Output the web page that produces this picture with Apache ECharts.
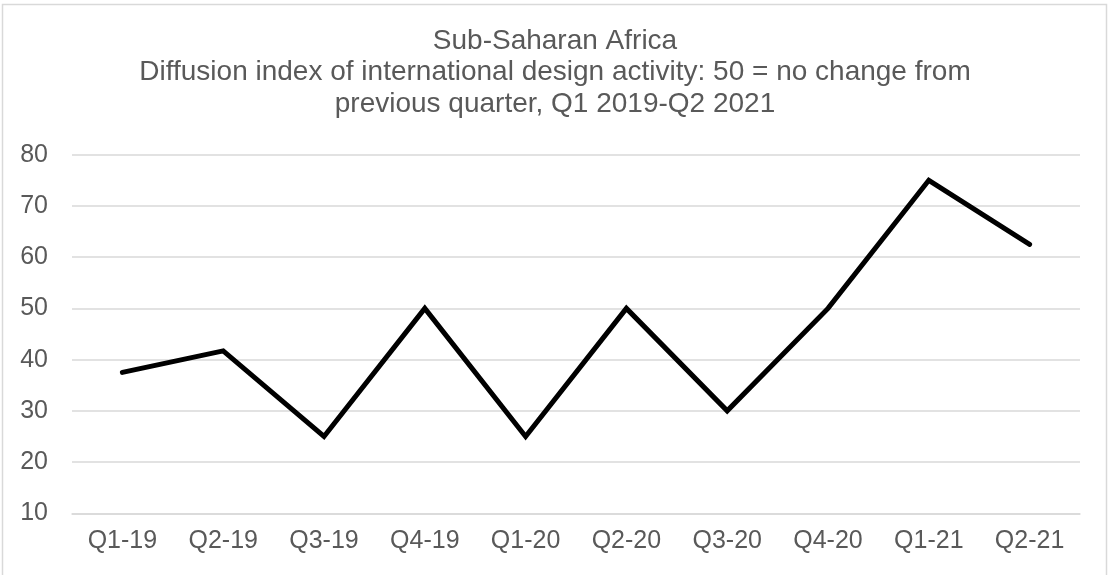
<!DOCTYPE html>
<html>
<head>
<meta charset="utf-8">
<script src="https://cdn.jsdelivr.net/npm/echarts@6/dist/echarts.min.js"></script>
<style>
html,body{margin:0;padding:0;background:#fff;}
#chart{width:1110px;height:575px;}
</style>
</head>
<body>
<div id="chart"></div>
<script>
const categories = ['Q1-19','Q2-19','Q3-19','Q4-19','Q1-20','Q2-20','Q3-20','Q4-20','Q1-21','Q2-21'];
const values = [37.5, 41.7, 25, 50, 25, 50, 30, 50, 75, 62.5];
const titleLines = ['Sub-Saharan Africa','Diffusion index of international design activity: 50 = no change from','previous quarter, Q1 2019-Q2 2021'];

const chart = echarts.init(document.getElementById('chart'), null, {renderer:'canvas'});
chart.setOption({
  backgroundColor:'#fff',
  animation:false,
  title:{
    text: titleLines.join('\n'),
    left:'center',
    top:25,
    padding:0,
    textStyle:{fontFamily:'Liberation Sans, Arial, sans-serif',fontSize:28,fontWeight:'normal',color:'#595959',lineHeight:31.8,align:'center'}
  },
  graphic:[{
    type:'rect',
    shape:{x:2.5,y:4.5,width:1104,height:580},
    style:{fill:'none',stroke:'#d9d9d9',lineWidth:1.5},
    silent:true,z:-1
  }],
  grid:{left:72,right:30,top:154.7,bottom:575-513.3,containLabel:false},
  xAxis:{
    type:'category',
    data:categories,
    boundaryGap:true,
    axisLine:{show:true,lineStyle:{color:'#d9d9d9',width:1.5}},
    axisTick:{show:false},
    axisLabel:{fontFamily:'Liberation Sans, Arial, sans-serif',fontSize:25,color:'#595959',margin:15}
  },
  yAxis:{
    type:'value',
    min:10,max:80,interval:10,
    axisLine:{show:false},
    axisTick:{show:false},
    splitLine:{lineStyle:{color:'#d9d9d9',width:1.5}},
    axisLabel:{fontFamily:'Liberation Sans, Arial, sans-serif',fontSize:25,color:'#595959',margin:24}
  },
  series:[{
    type:'line',
    data:values,
    symbol:'none',
    lineStyle:{color:'#000',width:5,cap:'round',join:'miter'}
  }]
});
</script>
</body>
</html>
